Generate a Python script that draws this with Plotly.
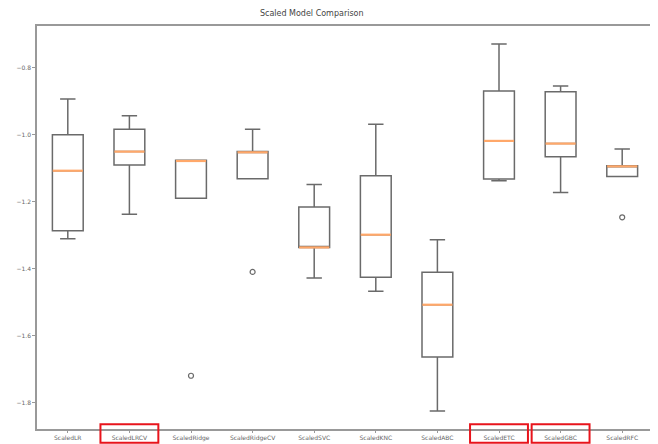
import plotly.graph_objects as go

categories = ["ScaledLR", "ScaledLRCV", "ScaledRidge", "ScaledRidgeCV", "ScaledSVC",
              "ScaledKNC", "ScaledABC", "ScaledETC", "ScaledGBC", "ScaledRFC"]
upper_whisker = [-0.893, -0.943, -1.076, -0.983, -1.148, -0.968, -1.313, -0.729, -0.854, -1.042]
q3_values     = [-1.000, -0.983, -1.076, -1.050, -1.215, -1.122, -1.410, -0.869, -0.871, -1.092]
median_values = [-1.107, -1.050, -1.078, -1.052, -1.336, -1.298, -1.507, -1.018, -1.026, -1.094]
q1_values     = [-1.286, -1.090, -1.189, -1.131, -1.336, -1.425, -1.663, -1.132, -1.065, -1.124]
lower_whisker = [-1.310, -1.237, -1.189, -1.131, -1.427, -1.467, -1.824, -1.137, -1.172, -1.124]
outlier_cats = ["ScaledRidge", "ScaledRidgeCV", "ScaledRFC"]
outlier_vals = [-1.719, -1.409, -1.246]
highlighted = ["ScaledLRCV", "ScaledETC", "ScaledGBC"]
y_ticks = [-0.8, -1.0, -1.2, -1.4, -1.6, -1.8]

positions = list(range(1, len(categories) + 1))
pos_of = dict(zip(categories, positions))
box_color = "#6a6a6a"
half = 0.245

fig = go.Figure()
fig.add_trace(go.Box(
    x=positions, q1=q1_values, median=median_values, q3=q3_values,
    lowerfence=lower_whisker, upperfence=upper_whisker,
    width=0.5, whiskerwidth=0.5, boxpoints=False,
    line=dict(color=box_color, width=1.5), fillcolor="rgba(0,0,0,0)",
    showlegend=False, hoverinfo="skip"))

mx, my = [], []
for p, m in zip(positions, median_values):
    mx += [p - half, p + half, None]
    my += [m, m, None]
fig.add_trace(go.Scatter(x=mx, y=my, mode="lines",
                         line=dict(color="#ffa86a", width=2.2), showlegend=False, hoverinfo="skip"))

fig.add_trace(go.Scatter(x=[pos_of[c] for c in outlier_cats], y=outlier_vals, mode="markers",
                         marker=dict(symbol="circle-open", size=5, color=box_color, line=dict(width=1.2)),
                         showlegend=False, hoverinfo="skip"))

for c in highlighted:
    p = pos_of[c]
    fig.add_shape(type="rect", xref="x", yref="paper", x0=p - 0.47, x1=p + 0.47,
                  y0=-0.034, y1=0.012, layer="above", line=dict(color="#e8141c", width=2))

# the page body adds an 8px margin, so the figure is sized/offset to compensate
fig.update_layout(
    width=650, height=436,
    margin=dict(l=29, r=5, t=18, b=15),
    plot_bgcolor="white", paper_bgcolor="white",
    font=dict(family="DejaVu Sans", size=6, color="#666"),
    title=dict(text="Scaled Model Comparison", x=0.446, xref="paper", xanchor="center",
               y=0.9885, yanchor="middle", font=dict(size=8, color="#444")),
    xaxis=dict(range=[0.5, len(categories) + 0.5], tickvals=positions, ticktext=categories,
               showgrid=False, zeroline=False, showline=True, linecolor="#999", linewidth=1.5,
               mirror=True, ticks="outside", ticklen=2, tickcolor="#999", tickfont=dict(size=6),
               automargin=False),
    yaxis=dict(range=[-1.878, -0.675], tickvals=y_ticks, tickformat=".1f",
               showgrid=False, zeroline=False, showline=True, linecolor="#999", linewidth=1.5,
               mirror=True, ticks="outside", ticklen=3, tickcolor="#999", tickfont=dict(size=6),
               automargin=False),
)
fig.write_html("out.html")
